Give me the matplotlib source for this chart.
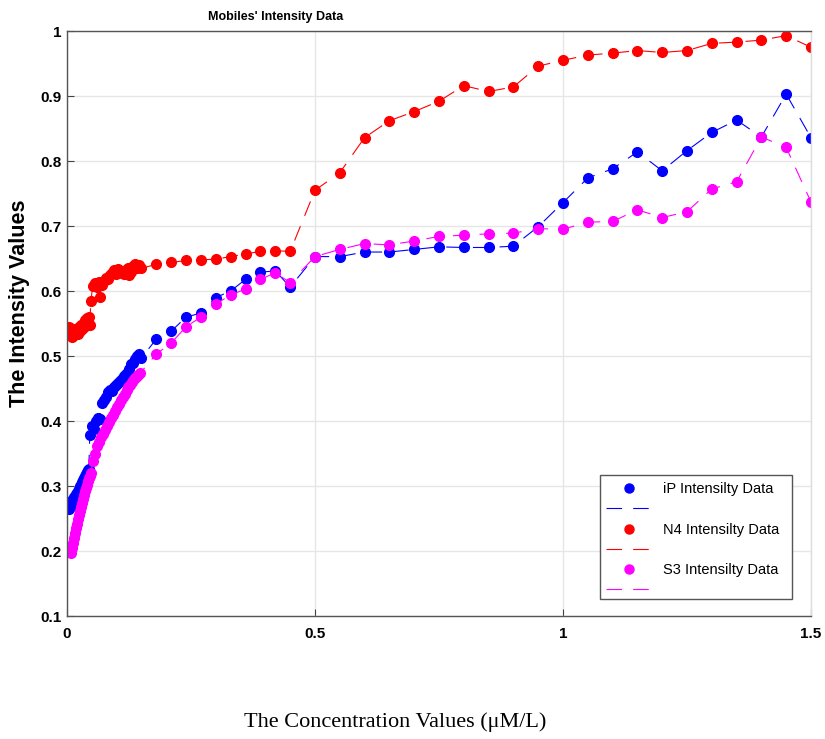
import matplotlib
matplotlib.use("Agg")
import matplotlib.pyplot as plt
from matplotlib.lines import Line2D
from matplotlib.patches import Rectangle

# --- data ---
ip_x = [0.004, 0.006, 0.008, 0.010, 0.012, 0.014, 0.016, 0.018, 0.020, 0.022,
        0.024, 0.026, 0.028, 0.030, 0.032, 0.034, 0.036, 0.038, 0.040, 0.042,
        0.044, 0.046, 0.050, 0.054, 0.058, 0.062, 0.066, 0.070, 0.074, 0.078,
        0.082, 0.086, 0.090, 0.094, 0.098, 0.102, 0.106, 0.110, 0.114, 0.118,
        0.122, 0.126, 0.130, 0.134, 0.138, 0.142, 0.146, 0.150,
        0.18, 0.21, 0.24, 0.27, 0.30, 0.33, 0.36, 0.39, 0.42, 0.45,
        0.50, 0.55, 0.60, 0.65, 0.70, 0.75, 0.80, 0.85, 0.90, 0.95,
        1.00, 1.05, 1.10, 1.15, 1.20, 1.25, 1.30, 1.35, 1.40, 1.45, 1.50]
ip_y = [0.265, 0.272, 0.270, 0.278, 0.275, 0.283, 0.280, 0.288, 0.290, 0.293,
        0.296, 0.300, 0.302, 0.306, 0.309, 0.312, 0.316, 0.318, 0.321, 0.324,
        0.326, 0.379, 0.393, 0.388, 0.400, 0.405, 0.403, 0.428, 0.432, 0.437,
        0.444, 0.448, 0.446, 0.452, 0.455, 0.458, 0.462, 0.465, 0.470, 0.472,
        0.476, 0.480, 0.487, 0.490, 0.495, 0.500, 0.503, 0.497,
        0.526, 0.538, 0.560, 0.566, 0.590, 0.600, 0.618, 0.629, 0.631, 0.606,
        0.653, 0.653, 0.660, 0.660, 0.664, 0.668, 0.667, 0.667, 0.669, 0.699,
        0.736, 0.774, 0.788, 0.814, 0.785, 0.816, 0.844, 0.863, 0.837, 0.903, 0.836]

n4_x = [0.004, 0.006, 0.008, 0.010, 0.012, 0.014, 0.016, 0.018, 0.020, 0.022,
        0.024, 0.026, 0.028, 0.030, 0.032, 0.034, 0.036, 0.038, 0.040, 0.042,
        0.044, 0.046, 0.048, 0.052, 0.056, 0.060, 0.064, 0.066, 0.070, 0.074,
        0.078, 0.082, 0.086, 0.090, 0.094, 0.098, 0.102, 0.106, 0.110, 0.114,
        0.118, 0.122, 0.126, 0.130, 0.134, 0.138, 0.142, 0.146, 0.150,
        0.18, 0.21, 0.24, 0.27, 0.30, 0.33, 0.36, 0.39, 0.42, 0.45,
        0.50, 0.55, 0.60, 0.65, 0.70, 0.75, 0.80, 0.85, 0.90, 0.95,
        1.00, 1.05, 1.10, 1.15, 1.20, 1.25, 1.30, 1.35, 1.40, 1.45, 1.50]
n4_y = [0.545, 0.535, 0.540, 0.530, 0.538, 0.532, 0.542, 0.536, 0.540, 0.534,
        0.545, 0.538, 0.548, 0.542, 0.550, 0.545, 0.555, 0.550, 0.558, 0.553,
        0.560, 0.548, 0.584, 0.608, 0.612, 0.606, 0.614, 0.591, 0.610, 0.615,
        0.620, 0.618, 0.624, 0.628, 0.632, 0.626, 0.634, 0.630, 0.628, 0.626,
        0.632, 0.636, 0.624, 0.630, 0.638, 0.642, 0.636, 0.640, 0.635,
        0.641, 0.644, 0.647, 0.648, 0.649, 0.653, 0.657, 0.661, 0.662, 0.661,
        0.755, 0.782, 0.836, 0.862, 0.876, 0.892, 0.916, 0.907, 0.914, 0.946,
        0.955, 0.963, 0.966, 0.970, 0.967, 0.970, 0.981, 0.983, 0.986, 0.993, 0.975]

s3_x = [0.008, 0.010, 0.012, 0.014, 0.016, 0.018, 0.020, 0.022, 0.024, 0.026,
        0.028, 0.030, 0.032, 0.034, 0.036, 0.038, 0.040, 0.042, 0.044, 0.046,
        0.048, 0.052, 0.056, 0.060, 0.064, 0.068, 0.072, 0.076, 0.080, 0.084,
        0.088, 0.092, 0.096, 0.100, 0.104, 0.108, 0.112, 0.116, 0.120, 0.124,
        0.128, 0.132, 0.136, 0.140, 0.144, 0.148,
        0.18, 0.21, 0.24, 0.27, 0.30, 0.33, 0.36, 0.39, 0.42, 0.45,
        0.50, 0.55, 0.60, 0.65, 0.70, 0.75, 0.80, 0.85, 0.90, 0.95,
        1.00, 1.05, 1.10, 1.15, 1.20, 1.25, 1.30, 1.35, 1.40, 1.45, 1.50]
s3_y = [0.197, 0.205, 0.212, 0.220, 0.228, 0.235, 0.242, 0.249, 0.256, 0.262,
        0.268, 0.274, 0.280, 0.286, 0.292, 0.297, 0.302, 0.307, 0.312, 0.316,
        0.320, 0.338, 0.350, 0.362, 0.368, 0.375, 0.380, 0.386, 0.392, 0.398,
        0.404, 0.410, 0.416, 0.421, 0.426, 0.432, 0.437, 0.442, 0.447, 0.452,
        0.456, 0.460, 0.464, 0.468, 0.471, 0.474,
        0.503, 0.520, 0.545, 0.560, 0.580, 0.594, 0.603, 0.618, 0.628, 0.613,
        0.653, 0.664, 0.673, 0.671, 0.677, 0.684, 0.686, 0.688, 0.689, 0.696,
        0.695, 0.706, 0.707, 0.725, 0.713, 0.722, 0.757, 0.768, 0.837, 0.821, 0.737]

series_labels = ['iP Intensilty Data', 'N4 Intensilty Data', 'S3 Intensilty Data']
series_colors = ['#0000ff', '#ff0000', '#ff00ff']
x_ticks = [0, 0.5, 1, 1.5]
x_ticklabels = ['0', '0.5', '1', '1.5']
y_ticks = [0.1, 0.2, 0.3, 0.4, 0.5, 0.6, 0.7, 0.8, 0.9, 1.0]
y_ticklabels = ['0.1', '0.2', '0.3', '0.4', '0.5', '0.6', '0.7', '0.8', '0.9', '1']

plt.rcParams['font.family'] = ['Liberation Sans', 'DejaVu Sans']
DASH = (0, (14, 10))

fig = plt.figure(figsize=(8.25, 7.39), dpi=100)
ax = fig.add_axes([0.0812, 0.1664, 0.9018, 0.7916])

for xs, ys, c in zip([ip_x, n4_x, s3_x], [ip_y, n4_y, s3_y], series_colors):
    ax.plot(xs, ys, linestyle=DASH, lw=0.8, color=c, marker='o', ms=7,
            markeredgecolor=c, markerfacecolor=c)

ax.set_xlim(0, 1.5)
ax.set_ylim(0.1, 1.0)
ax.set_xticks(x_ticks)
ax.set_xticklabels(x_ticklabels, fontweight='bold', fontsize=11)
ax.set_yticks(y_ticks)
ax.set_yticklabels(y_ticklabels, fontweight='bold', fontsize=11)
ax.tick_params(direction='in', length=5, width=0.8, color='#444444')
ax.tick_params(axis='x', pad=8)
ax.tick_params(axis='y', pad=4)
ax.grid(True, color='#e6e6e6', lw=1)
ax.set_axisbelow(True)
for side in ['left', 'bottom', 'top', 'right']:
    ax.spines[side].set_color('#555555')
    ax.spines[side].set_linewidth(1)
ax.spines['right'].set_color('#dddddd')

ax.set_ylabel('The Intensity Values', fontweight='bold', fontsize=15.5)
ax.yaxis.set_label_coords(-0.05, 0.535)

fig.text(276 / 825, 1 - 17 / 739, "Mobiles' Intensity Data", ha='center', va='center',
         fontweight='bold', fontsize=9)
fig.text(395 / 825, 1 - 722 / 739, 'The Concentration Values (\u03bcM/L)', ha='center',
         va='center', fontsize=16, family=['Liberation Serif', 'DejaVu Serif'])

# legend: marker row then dashed-line row for each series
handles, labels = [], []
for c, lab in zip(series_colors, series_labels):
    handles.append(Line2D([], [], linestyle='none', marker='o', ms=6.5, color=c))
    labels.append(lab)
    handles.append(Line2D([], [], linestyle=DASH, lw=0.8, color=c))
    labels.append('')
leg = ax.legend(handles, labels, loc='upper left', bbox_to_anchor=(0.7245, 0.2285),
                borderaxespad=0, borderpad=0, frameon=False, fontsize=10.5,
                handlelength=3.1, handletextpad=0.8, labelspacing=0.42)
ax.add_patch(Rectangle((0.7164, 0.0291), 0.9745 - 0.7164, 0.2410 - 0.0291,
                       transform=ax.transAxes, facecolor='white', edgecolor='#555555',
                       lw=1, zorder=4))
leg.set_zorder(5)

fig.savefig('out.png', dpi=100)
